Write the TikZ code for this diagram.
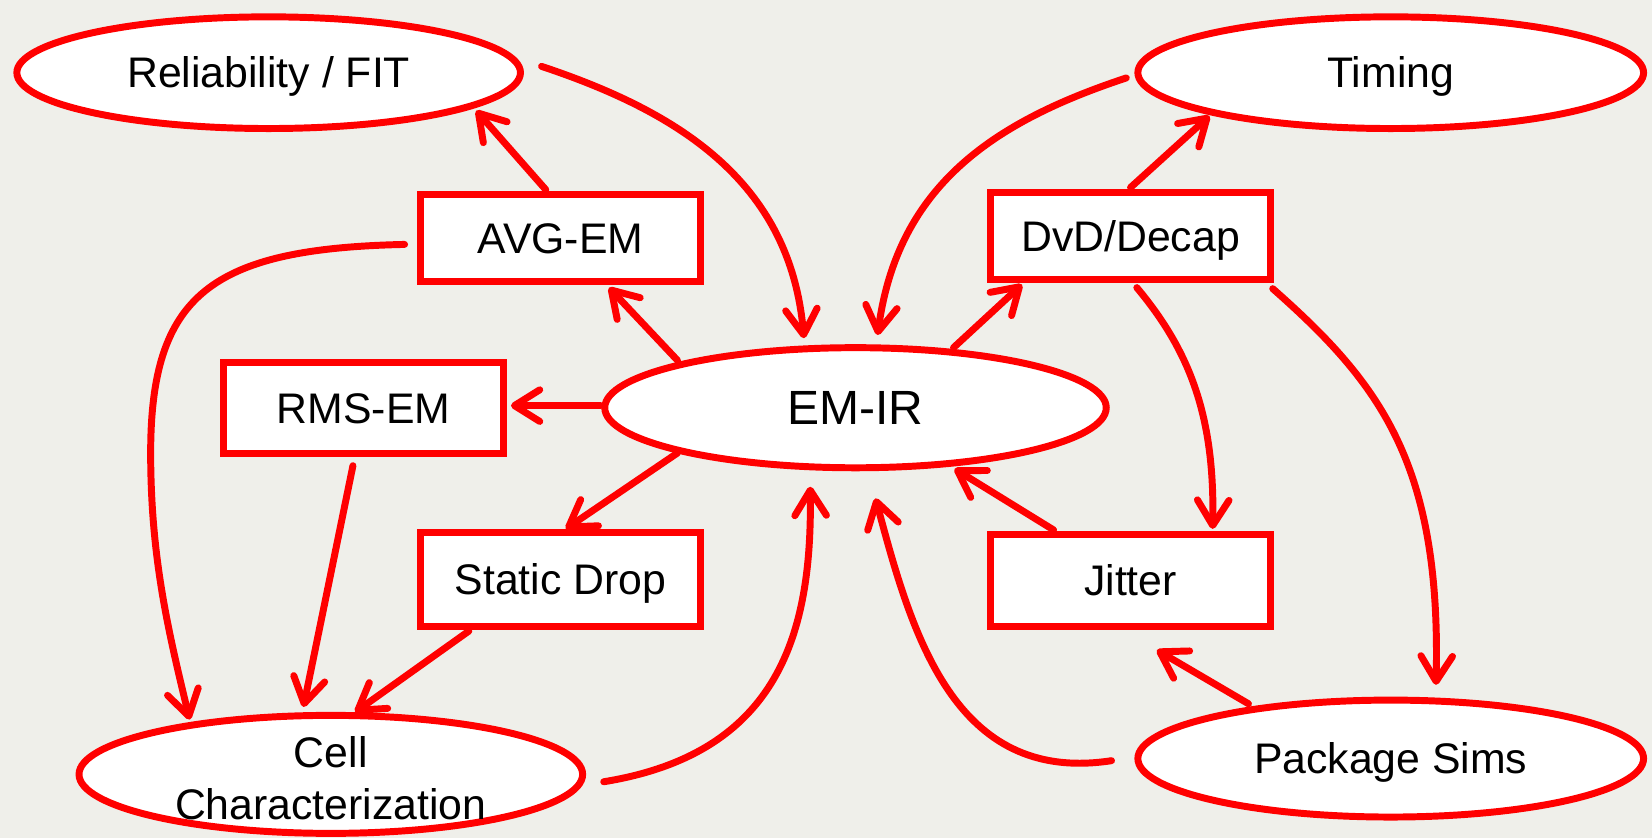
\documentclass[tikz,border=0pt]{standalone}
\usepackage{fontspec}
\setmainfont{Liberation Sans}
\usetikzlibrary{shapes.geometric,arrows.meta,calc}
\definecolor{bg}{RGB}{239,239,234}
\definecolor{linkred}{RGB}{255,0,0}
\begin{document}
\begin{tikzpicture}[x=0.5pt,y=-0.5pt,
  every node/.style={font=\fontsize{20.3}{24.5}\selectfont, text=black},
  label text/.style={text height=14.5pt, text depth=0pt},
  oval/.style={ellipse, draw=linkred, fill=white, line width=3.3pt, inner sep=0pt, label text},
  box/.style={rectangle, draw=linkred, fill=white, line width=3.3pt,
              minimum width=132.5pt, inner sep=0pt, label text},
  link/.style={draw=linkred, line width=3.3pt, line cap=round, line join=round,
               -{Straight Barb[length=12pt,width=15pt,round]}}]
% canvas
\fill[bg] (0,0) rectangle (1568,795);
\useasboundingbox (0,0) rectangle (1568,795);

% nodes
\node[oval, minimum width=239pt, minimum height=53pt] (rel) at (255,69) {Reliability / FIT};
\node[oval, minimum width=240pt, minimum height=53pt] (tim) at (1320,69) {Timing};
\node[box, minimum height=41pt] (avg) at (532,226) {AVG-EM};
\node[box, minimum height=41.5pt] (dvd) at (1073,224) {DvD/Decap};
\node[box, minimum height=43pt] (rms) at (345,387) {RMS-EM};
\node[oval, minimum width=238pt, minimum height=57pt, text height=16.3pt,
      font=\fontsize{22.8}{27}\selectfont] (emir) at (812,387) {EM-IR};
\node[box, minimum height=44.5pt] (sdrop) at (532,550) {Static Drop};
\node[box, minimum height=44pt] (jit) at (1073,551) {Jitter};
\node[oval, minimum width=239pt, minimum height=56pt] (cell) at (314,735) {};
\node[align=center] (celltext) at (314,738.5) {Cell\\Characterization};
\node[oval, minimum width=240pt, minimum height=55.5pt] (pkg) at (1320,720) {Package Sims};

% straight connectors
\draw[link] ($(avg.center)+(-14,-46)$) -- ($(rel.center)+(197,36)$);
\draw[link] ($(emir.center)+(93,-57)$) -- ($(dvd.center)+(-103,46)$);
\draw[link] ($(dvd.center)+(0,-46)$) -- ($(tim.center)+(-172,41)$);
\draw[link] ($(emir.center)+(-169,-45)$) -- ($(avg.center)+(46,47)$);
\draw[link] ($(emir.center)+(-242,-2)$) -- ($(rms.center)+(140,-2)$);
\draw[link] ($(emir.center)+(-169,43)$) -- ($(sdrop.center)+(5,-48)$);
\draw[link] ($(sdrop.center)+(-87,49)$) -- ($(cell.center)+(23,-59)$);
\draw[link] ($(rms.center)+(-10,55)$) -- ($(cell.center)+(-26,-64)$);
\draw[link] ($(jit.center)+(-73,-48)$) -- ($(emir.center)+(94,58)$);
\draw[link] ($(pkg.center)+(-135,-52)$) -- ($(jit.center)+(25,66)$);

% curved connectors
\draw[link] ($(rel.center)+(259,-6)$) .. controls +(126,42) and +(-13,-151) .. ($(emir.center)+(-49,-66)$);
\draw[link] ($(tim.center)+(-251,5)$) .. controls +(-124,41) and +(19,-143) .. ($(emir.center)+(21,-69)$);
\draw[link] ($(avg.center)+(-148,6)$) .. controls +(-184,4) and +(0,-150) .. ($(rms.center)+(-202,43)$)
            .. controls +(0,100) and +(-20,-83) .. ($(cell.center)+(-134,-52)$);
\draw[link] ($(cell.center)+(259,7)$) .. controls +(167,-27) and +(2,138) .. ($(emir.center)+(-43,75)$);
\draw[link] ($(pkg.center)+(-265,2)$) .. controls +(-150,23) and +(34,127) .. ($(emir.center)+(19,86)$);
\draw[link] ($(dvd.center)+(6,49)$) .. controls +(51,61) and +(2,-106) .. ($(jit.center)+(78,-49)$);
\draw[link] ($(dvd.center)+(135,50)$) .. controls +(102,90) and +(5,-210) .. ($(pkg.center)+(43,-70)$);
\end{tikzpicture}
\end{document}
